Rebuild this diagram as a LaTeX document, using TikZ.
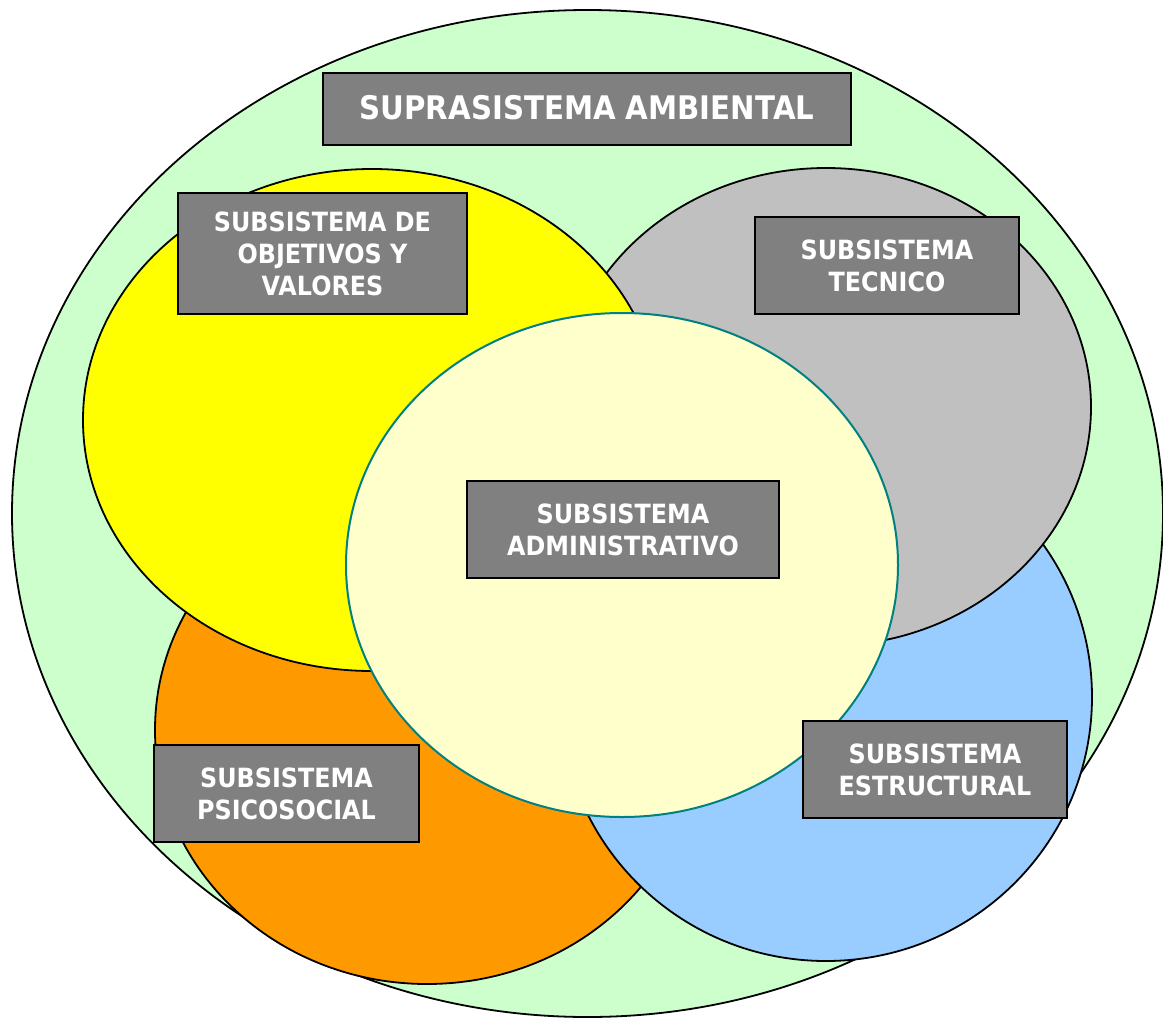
\documentclass[tikz,border=0pt]{standalone}
\usepackage{fontspec}
\usetikzlibrary{shapes.geometric}
\newfontfamily\labelfont{DejaVu Sans}[FakeStretch=0.9]

\definecolor{envgreen}{HTML}{CCFFCC}
\definecolor{goalyellow}{HTML}{FFFF00}
\definecolor{techgray}{HTML}{C0C0C0}
\definecolor{structblue}{HTML}{99CCFF}
\definecolor{psyorange}{HTML}{FF9900}
\definecolor{admincream}{HTML}{FFFFCC}
\definecolor{adminteal}{HTML}{008080}
\definecolor{labelgray}{HTML}{808080}

\tikzset{
  subsys/.style={ellipse, draw=black, line width=1.8pt, inner sep=0pt},
  tag/.style={rectangle, draw=black, line width=1.8pt, fill=labelgray,
    text=white, inner sep=0pt, align=center,
    font=\labelfont\bfseries\fontsize{26.5}{32}\selectfont},
}

\begin{document}
\begin{tikzpicture}[x=1pt, y=-1pt]
  \useasboundingbox (0,0) rectangle (1163,1018);

  % environment suprasystem
  \node[subsys, fill=envgreen, minimum width=1151pt, minimum height=1007pt] (env) at (587.5,513.5) {};

  % subsystems, back to front
  \node[subsys, fill=psyorange, minimum width=544pt, minimum height=508pt] (psy) at (427,730) {};
  \node[subsys, fill=structblue, minimum width=532pt, minimum height=528pt] (struct) at (826,697) {};
  \node[subsys, fill=techgray, minimum width=530pt, minimum height=478pt] (tech) at (826,407) {};
  \node[subsys, fill=goalyellow, minimum width=578pt, minimum height=502pt] (goal) at (372,420) {};
  \node[ellipse, draw=adminteal, line width=2pt, inner sep=0pt, fill=admincream,
        minimum width=552pt, minimum height=504pt] (admin) at (622,565) {};

  % labels
  \node[tag, minimum width=528pt, minimum height=72pt,
        font=\labelfont\bfseries\fontsize{32.5}{38}\selectfont] (tenv) at (587,109)
        {\raisebox{4pt}{SUPRASISTEMA AMBIENTAL}};
  \node[tag, minimum width=289pt, minimum height=121pt] (tgoal) at (322.5,253.5)
        {SUBSISTEMA DE\\OBJETIVOS Y\\VALORES};
  \node[tag, minimum width=264pt, minimum height=97pt] (ttech) at (887,265.5)
        {SUBSISTEMA\\TECNICO};
  \node[tag, minimum width=312pt, minimum height=97pt] (tadmin) at (623,529.5)
        {SUBSISTEMA\\ADMINISTRATIVO};
  \node[tag, minimum width=264pt, minimum height=97pt] (tstruct) at (935,769.5)
        {SUBSISTEMA\\ESTRUCTURAL};
  \node[tag, minimum width=265pt, minimum height=97pt] (tpsy) at (286.5,793.5)
        {SUBSISTEMA\\PSICOSOCIAL};
\end{tikzpicture}
\end{document}
